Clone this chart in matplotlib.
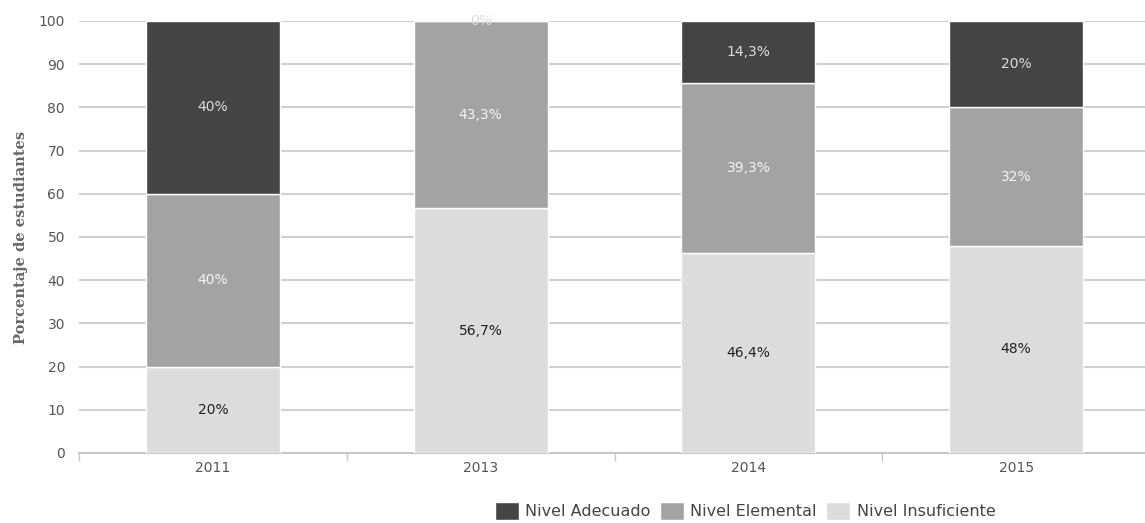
import numpy as np
import matplotlib
matplotlib.use("Agg")
import matplotlib.pyplot as plt

years = ["2011", "2013", "2014", "2015"]
insuficiente = [20, 56.7, 46.4, 48]
elemental = [40, 43.3, 39.3, 32]
adecuado = [40, 0, 14.3, 20]
series_names = ["Nivel Adecuado", "Nivel Elemental", "Nivel Insuficiente"]

col_dark = "#444444"
col_mid = "#a3a3a3"
col_light = "#dcdcdc"

fig = plt.figure(figsize=(11.45, 5.23), dpi=100)
ax = fig.add_axes([79 / 1145, 70 / 523, 1071 / 1145, 432 / 523])

x = np.arange(len(years))
w = 0.5
ins = np.array(insuficiente)
ele = np.array(elemental)
ade = np.array(adecuado)

b_ins = ax.bar(x, ins, w, color=col_light, edgecolor="white", linewidth=1, zorder=3)
b_ele = ax.bar(x, ele, w, bottom=ins, color=col_mid, edgecolor="white", linewidth=1, zorder=3)
b_ade = ax.bar(x, ade, w, bottom=ins + ele, color=col_dark, edgecolor="white", linewidth=1, zorder=3)


def fmt(v):
    s = ("%.1f" % v).rstrip("0").rstrip(".")
    return s.replace(".", ",") + "%"


for i in range(len(years)):
    ax.text(x[i], ins[i] / 2, fmt(ins[i]), ha="center", va="center",
            fontsize=10, color="#222222", zorder=4)
    ax.text(x[i], ins[i] + ele[i] / 2, fmt(ele[i]), ha="center", va="center",
            fontsize=10, color="#f4f4f4", zorder=4)
    ax.text(x[i], ins[i] + ele[i] + ade[i] / 2, fmt(ade[i]), ha="center", va="center",
            fontsize=10, color="#dddddd", zorder=4)

ax.set_xlim(-0.5, 3.5)
ax.set_ylim(0, 100)
ax.set_yticks(np.arange(0, 101, 10))
ax.set_xticks(x)
ax.set_xticklabels(years)
ax.set_xticks(np.arange(-0.5, 3.6, 1), minor=True)
ax.tick_params(axis="x", which="major", length=0, pad=6, labelsize=10, colors="#555555")
ax.tick_params(axis="x", which="minor", length=6, color="#c8c8c8", width=1)
ax.tick_params(axis="y", length=0, pad=10, labelsize=10, colors="#555555")

ax.grid(axis="y", color="#d0d0d0", linewidth=1.5, zorder=0)
for s in ["top", "right", "left"]:
    ax.spines[s].set_visible(False)
ax.spines["bottom"].set_color("#c8c8c8")
ax.spines["bottom"].set_linewidth(1.5)

ax.set_ylabel("Porcentaje de estudiantes", family="DejaVu Serif", fontsize=10.5,
              fontweight="bold", color="#666666", labelpad=8)

leg = fig.legend([b_ade, b_ele, b_ins], series_names, loc="center",
                 bbox_to_anchor=(745 / 1145, 12 / 523), ncol=3, frameon=False,
                 fontsize=11.5, handlelength=1.5, handleheight=1.3,
                 handletextpad=0.4, columnspacing=0.6)
for t in leg.get_texts():
    t.set_color("#444444")

fig.savefig("out.png", dpi=100)
